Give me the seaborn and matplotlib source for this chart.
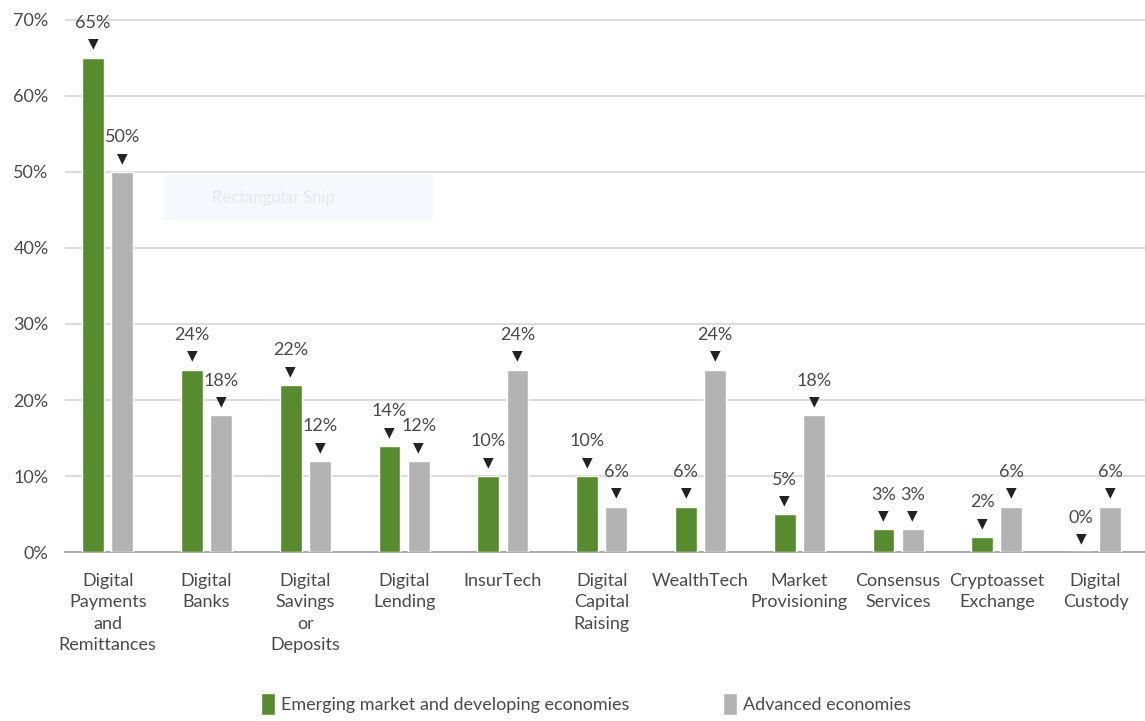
import matplotlib.pyplot as plt
import matplotlib.patches as mpatches
import pandas as pd
import seaborn as sns

categories = ["Digital\nPayments\nand\nRemittances", "Digital\nBanks", "Digital\nSavings\nor\nDeposits",
              "Digital\nLending", "InsurTech", "Digital\nCapital\nRaising", "WealthTech",
              "Market\nProvisioning", "Consensus\nServices", "Cryptoasset\nExchange", "Digital\nCustody"]
emerging = [65, 24, 22, 14, 10, 10, 6, 5, 3, 2, 0]
advanced = [50, 18, 12, 12, 24, 6, 24, 18, 3, 6, 6]
series = ["Emerging market and developing economies", "Advanced economies"]
colors = ["#568c2e", "#b3b3b3"]
yticks = [0, 10, 20, 30, 40, 50, 60, 70]

df = pd.DataFrame({
    'Category': categories * 2,
    'Share': emerging + advanced,
    'Group': [series[0]] * len(categories) + [series[1]] * len(categories),
})

sns.set_style('white')
plt.rcParams['font.family'] = ['Lato', 'DejaVu Sans']
txt = '#4a4a4a'

fig = plt.figure(figsize=(11.45, 7.21), dpi=100)
ax = fig.add_axes([0.057, 0.234, 0.943, 0.742])

sns.barplot(data=df, x='Category', y='Share', hue='Group', hue_order=series,
            palette=colors, width=0.59, gap=0.25, saturation=1, ax=ax, zorder=3)

ax.set_ylim(0, 70.3)
ax.set_xlim(-0.43, 10.5)
ax.set_yticks(yticks)
ax.set_yticklabels([f"{v}%" for v in yticks])
ax.yaxis.grid(True, color='#dcdcdc', linewidth=1.5, zorder=0)
ax.set_axisbelow(True)
for s in ['top', 'right', 'left']:
    ax.spines[s].set_visible(False)
ax.spines['bottom'].set_color('#aaaaaa')
ax.spines['bottom'].set_linewidth(1.4)
ax.tick_params(axis='both', length=0, labelsize=13, labelcolor=txt)
ax.tick_params(axis='x', pad=15)
ax.tick_params(axis='y', pad=12)
ax.set_xlabel('')
ax.set_ylabel('')
for lbl in ax.get_xticklabels():
    lbl.set_linespacing(1.4)
    lbl.set_va('top')

for cont, vals in zip(ax.containers, [emerging, advanced]):
    for bar, v in zip(cont, vals):
        cx = bar.get_x() + bar.get_width() / 2
        ax.annotate('▼', (cx, v), xytext=(0, 10), textcoords='offset points',
                    ha='center', va='center', fontsize=10, color='#222222',
                    family='DejaVu Sans')
        ax.annotate(f"{v}%", (cx, v), xytext=(0, 25), textcoords='offset points',
                    ha='center', va='center', fontsize=13, color=txt)

sns.move_legend(ax, 'lower center', bbox_to_anchor=(0.482, -0.335), ncol=2, frameon=False,
                title=None, fontsize=13, handlelength=0.8, handleheight=1.5,
                handletextpad=0.3, columnspacing=5.2)
for t in ax.get_legend().get_texts():
    t.set_color(txt)

# faint screenshot artifact in the reference
fig.patches.append(mpatches.Rectangle((0.143, 0.695), 0.235, 0.062, transform=fig.transFigure,
                                      facecolor='#f5f9fd', edgecolor='none', zorder=0))
fig.text(0.185, 0.726, 'Rectangular Snip', fontsize=12, color='#e6eaef', va='center')

fig.savefig('out.png', dpi=100)
